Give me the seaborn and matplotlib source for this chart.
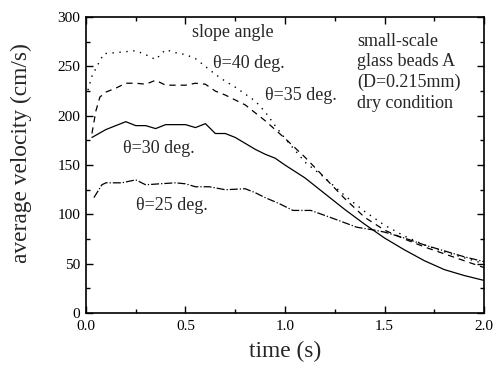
import numpy as np
import pandas as pd
import matplotlib
matplotlib.use('Agg')
import matplotlib.pyplot as plt
import seaborn as sns
from matplotlib.ticker import MultipleLocator

# data: average velocity (cm/s) vs time (s)
t25 = [0.04, 0.08, 0.10, 0.18, 0.25, 0.30, 0.37, 0.45, 0.50, 0.55, 0.62, 0.70, 0.80, 0.85,
       0.90, 0.97, 1.04, 1.13, 1.24, 1.36, 1.45, 1.50, 1.60, 1.70, 1.80, 1.90, 2.00]
v25 = [117, 130, 132, 132, 135, 130, 131, 132, 131, 128, 128, 125, 126, 122,
       117, 111, 104, 104, 96, 87, 84, 82, 76, 69, 63, 57, 52]

t30 = [0.03, 0.10, 0.20, 0.25, 0.30, 0.35, 0.40, 0.45, 0.50, 0.55, 0.60, 0.65, 0.70, 0.75,
       0.80, 0.85, 0.90, 0.95, 1.00, 1.10, 1.20, 1.30, 1.40, 1.50, 1.60, 1.70, 1.80, 1.90, 2.00]
v30 = [178, 186, 194, 190, 190, 187, 191, 191, 191, 188, 192, 182, 182, 178,
       172, 166, 161, 157, 150, 137, 121, 105, 90, 76, 64, 53, 44, 38, 33]

t35 = [0.03, 0.05, 0.07, 0.10, 0.15, 0.20, 0.25, 0.30, 0.35, 0.40, 0.45, 0.50, 0.55, 0.60,
       0.65, 0.70, 0.75, 0.80, 0.85, 0.90, 0.95, 1.00, 1.10, 1.20, 1.30, 1.40, 1.50, 1.60,
       1.70, 1.80, 1.90, 2.00]
v35 = [182, 205, 219, 224, 228, 233, 233, 232, 236, 231, 231, 231, 233, 232,
       225, 221, 216, 211, 203, 195, 186, 177, 158, 137, 116, 97, 84, 75,
       67, 60, 53, 46]

t40 = [0.01, 0.03, 0.06, 0.09, 0.15, 0.20, 0.25, 0.30, 0.35, 0.40, 0.45, 0.50, 0.55, 0.60,
       0.65, 0.70, 0.75, 0.80, 0.85, 0.90, 0.95, 1.00, 1.10, 1.20, 1.30, 1.40, 1.50, 1.60,
       1.70, 1.80, 1.90, 2.00]
v40 = [226, 240, 252, 263, 264, 265, 266, 262, 257, 267, 264, 262, 258, 250,
       242, 235, 229, 222, 215, 204, 190, 177, 153, 137, 119, 103, 89, 78,
       69, 62, 56, 50]

sns.set_style('ticks')
plt.rcParams['font.family'] = ['Liberation Serif', 'DejaVu Serif']

fig = plt.figure(figsize=(4.94, 3.65), dpi=100)
ax = fig.add_axes([0.174, 0.1425, 0.806, 0.8105])

sns.lineplot(x=t25, y=v25, ax=ax, color='black', lw=0.9, linestyle='-.')
sns.lineplot(x=t30, y=v30, ax=ax, color='black', lw=0.9, linestyle='-')
sns.lineplot(x=t35, y=v35, ax=ax, color='black', lw=0.9, linestyle=(0, (5, 4)))
sns.lineplot(x=t40, y=v40, ax=ax, color='black', lw=1.0, linestyle=(0, (1, 4)))

ax.set_xlim(0, 2.0)
ax.set_ylim(0, 300)
ax.xaxis.set_major_locator(MultipleLocator(0.5))
ax.xaxis.set_minor_locator(MultipleLocator(0.25))
ax.yaxis.set_major_locator(MultipleLocator(50))
ax.yaxis.set_minor_locator(MultipleLocator(25))
ax.xaxis.set_major_formatter(matplotlib.ticker.FormatStrFormatter('%.1f'))
ax.tick_params(which='both', direction='in', top=True, right=True, labelsize=11,
               colors='black')
ax.tick_params(axis='x', pad=5)
ax.tick_params(axis='y', pad=4)
ax.tick_params(which='major', length=5, width=1)
ax.tick_params(which='minor', length=3, width=1)
for s in ax.spines.values():
    s.set_visible(True)
    s.set_linewidth(1.2)
    s.set_color('black')

ax.set_xlabel('time (s)', fontsize=16.8, labelpad=6)
ax.set_ylabel('average velocity (cm/s)', fontsize=16.8)
ax.yaxis.set_label_coords(-0.136, 0.54)

fs = 13
ax.text(0.533, 284, 'slope angle', fontsize=fs, va='center')
ax.text(0.64, 253, 'θ=40 deg.', fontsize=fs, va='center')
ax.text(0.90, 221, 'θ=35 deg.', fontsize=fs, va='center')
ax.text(0.186, 167, 'θ=30 deg.', fontsize=fs, va='center')
ax.text(0.25, 109, 'θ=25 deg.', fontsize=fs, va='center')
ax.text(1.362, 284, 'small-scale\nglass beads A\n(D=0.215mm)\ndry condition',
        fontsize=fs, va='top', linespacing=1.27)

fig.savefig('out.png', dpi=100)
